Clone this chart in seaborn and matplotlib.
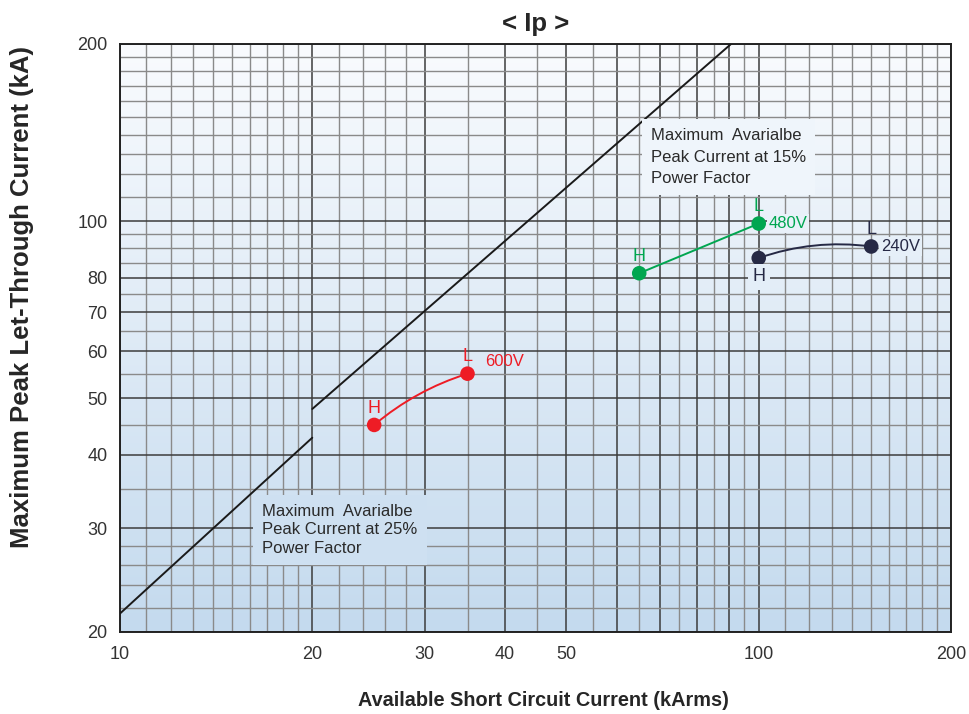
import numpy as np
import pandas as pd
import matplotlib
matplotlib.use("Agg")
import matplotlib.pyplot as plt
from matplotlib.ticker import FixedLocator, FixedFormatter, NullFormatter
import seaborn as sns

# H / L points of each voltage rating (kA)
voltages = ['600V', '480V', '240V']
h_x = [25, 65, 100]
h_y = [45, 81.5, 86.5]
l_x = [35, 100, 150]
l_y = [55, 99, 90.5]
colors = {'600V': '#ee1c25', '480V': '#00a650', '240V': '#262945'}
curve = {'600V': -0.1, '480V': 0.0, '240V': -0.12}

# maximum available peak current lines
pf25_x = [10, 20]
pf25_y = [21.5, 42.8]
pf15_x = [20, 90.5]
pf15_y = [47.9, 200]

# grid / ticks
x_labels = [10, 20, 30, 40, 50, 100, 200]
x_major = [10, 20, 30, 40, 50, 60, 70, 80, 90, 100, 200]
x_minor = [11, 12, 13, 14, 15, 16, 17, 18, 19, 22, 24, 26, 28, 35, 45,
           55, 65, 75, 85, 95, 110, 120, 130, 140, 150, 160, 170, 180, 190]
y_labels = [20, 30, 40, 50, 60, 70, 80, 100, 200]
y_major = [20, 30, 40, 50, 60, 70, 80, 100, 200]
y_minor = [22, 24, 26, 28, 35, 45, 55, 65, 75, 85, 90, 95,
           110, 120, 130, 140, 150, 160, 170, 180, 190]

sns.set_style('white')
plt.rcParams['font.family'] = ['Liberation Sans', 'DejaVu Sans']

top_rgb = np.array([249, 251, 254]) / 255
bot_rgb = np.array([196, 218, 238]) / 255


def bg_at(frac):
    # colour of the background gradient at a height (0 = bottom, 1 = top)
    return tuple(bot_rgb + (top_rgb - bot_rgb) * frac)


fig = plt.figure(figsize=(9.69, 7.14), dpi=100)
pos = [120 / 969, 1 - 632 / 714, 831 / 969, 588 / 714]

bg = fig.add_axes(pos, zorder=0)
grad = np.linspace(0, 1, 256)[:, None, None]
img = bot_rgb + (top_rgb - bot_rgb) * grad
bg.imshow(img, extent=(0, 1, 0, 1), aspect='auto', origin='lower')
bg.axis('off')

ax = fig.add_axes(pos, zorder=1)
ax.set_facecolor('none')
ax.set_xscale('log')
ax.set_yscale('log')
ax.set_xlim(10, 200)
ax.set_ylim(20, 200)

ax.xaxis.set_major_locator(FixedLocator(x_major))
ax.xaxis.set_major_formatter(FixedFormatter([str(v) if v in x_labels else '' for v in x_major]))
ax.xaxis.set_minor_locator(FixedLocator(x_minor))
ax.xaxis.set_minor_formatter(NullFormatter())
ax.yaxis.set_major_locator(FixedLocator(y_major))
ax.yaxis.set_major_formatter(FixedFormatter([str(v) if v in y_labels else '' for v in y_major]))
ax.yaxis.set_minor_locator(FixedLocator(y_minor))
ax.yaxis.set_minor_formatter(NullFormatter())

ax.set_axisbelow(True)
ax.grid(which='major', color='#3c3c3c', lw=1.1)
ax.grid(which='minor', color='#8a8a8a', lw=1.0)
ax.tick_params(which='both', length=0, labelsize=13, labelcolor='#333333')
ax.tick_params(axis='x', pad=10)
ax.tick_params(axis='y', pad=9)
for s in ax.spines.values():
    s.set_color('#222222')
    s.set_linewidth(1.4)
    s.set_visible(True)

# peak current lines
sns.lineplot(x=pf25_x, y=pf25_y, ax=ax, color='#1a1a1a', lw=1.4, zorder=3)
sns.lineplot(x=pf15_x, y=pf15_y, ax=ax, color='#1a1a1a', lw=1.4, zorder=3)

# H / L points
df = pd.DataFrame({
    'voltage': voltages * 2,
    'pos': ['H'] * 3 + ['L'] * 3,
    'x': h_x + l_x,
    'y': h_y + l_y,
})
for v, hx, hy, lx, ly in zip(voltages, h_x, h_y, l_x, l_y):
    ax.annotate('', xy=(lx, ly), xytext=(hx, hy),
                arrowprops=dict(arrowstyle='-', color=colors[v], lw=1.4,
                                shrinkA=0, shrinkB=0,
                                connectionstyle='arc3,rad=%s' % curve[v]),
                zorder=4)
sns.scatterplot(data=df, x='x', y='y', hue='voltage', palette=colors, s=110,
                edgecolor='none', legend=False, ax=ax, zorder=5)

# point labels
lab_kw = dict(textcoords='offset points', fontsize=13, ha='center', va='center', zorder=6)
for v, hx, hy, lx, ly in zip(voltages, h_x, h_y, l_x, l_y):
    c = colors[v]
    ax.annotate('L', (lx, ly), xytext=(0, 12.5), color=c, **lab_kw)
    if v == '240V':
        ax.annotate('H', (hx, hy), xytext=(0, -13.5), color=c,
                    bbox=dict(boxstyle='square,pad=0.25', fc=bg_at(0.6), ec='none'), **lab_kw)
    else:
        ax.annotate('H', (hx, hy), xytext=(0, 12), color=c, **lab_kw)
ax.annotate('600V', (l_x[0], l_y[0]), xytext=(13, 8.5), textcoords='offset points',
            color=colors['600V'], fontsize=12, ha='left', va='center', zorder=6)
ax.annotate('480V', (l_x[1], l_y[1]), xytext=(7, 0), textcoords='offset points',
            color=colors['480V'], fontsize=12, ha='left', va='center', zorder=6,
            bbox=dict(boxstyle='square,pad=0.1', fc=bg_at(0.69), ec='none'))
ax.annotate('240V', (l_x[2], l_y[2]), xytext=(7, 0), textcoords='offset points',
            color=colors['240V'], fontsize=12, ha='left', va='center', zorder=6,
            bbox=dict(boxstyle='square,pad=0.1', fc=bg_at(0.65), ec='none'))

# note boxes
ax.text(0.171, 0.218, 'Maximum  Avarialbe\nPeak Current at 25%\nPower Factor',
        transform=ax.transAxes, fontsize=12, color='#2a2a2a', ha='left', va='top',
        linespacing=1.3, zorder=6,
        bbox=dict(boxstyle='square,pad=0.55', fc=bg_at(0.18), ec='none'))
ax.text(0.639, 0.857, 'Maximum  Avarialbe\nPeak Current at 15%\nPower Factor',
        transform=ax.transAxes, fontsize=12, color='#2a2a2a', ha='left', va='top',
        linespacing=1.55, zorder=6,
        bbox=dict(boxstyle='square,pad=0.55', fc=bg_at(0.81), ec='none'))

ax.set_title('< Ip >', fontsize=18.5, fontweight='bold', pad=9)
ax.set_xlabel('Available Short Circuit Current (kArms)', fontsize=14.3,
              fontweight='bold', va='center')
ax.xaxis.set_label_coords((543 - 120) / 831, (632 - 701) / 588)
ax.set_ylabel('Maximum Peak Let-Through Current (kA)', fontsize=18.5,
              fontweight='bold', va='center')
ax.yaxis.set_label_coords((22 - 120) / 831, (632 - 297) / 588)

fig.savefig('out.png', dpi=100)
